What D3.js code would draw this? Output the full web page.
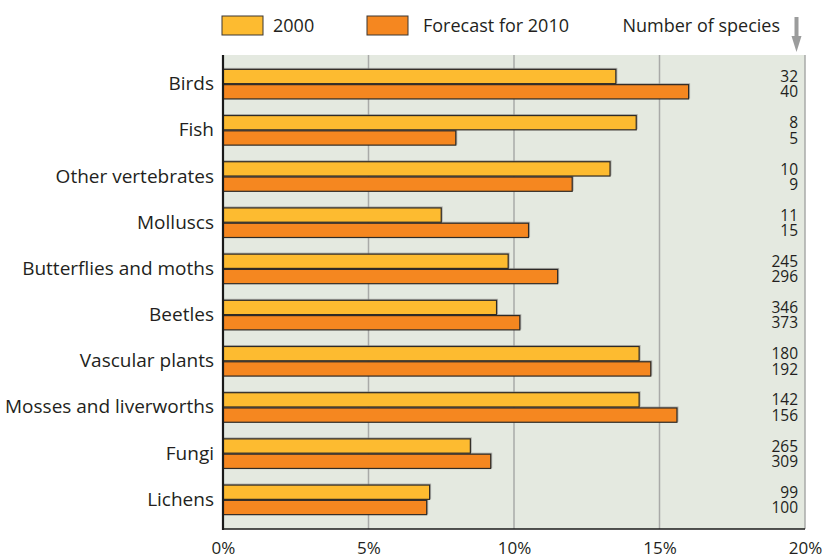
<!DOCTYPE html>
<html>
<head>
<meta charset="utf-8">
<script src="https://cdn.jsdelivr.net/npm/d3@7"></script>
<style>
  html, body { margin: 0; padding: 0; background: #ffffff; }
  svg { display: block; }
  text { font-family: "Open Sans", "DejaVu Sans", sans-serif; fill: #231f20; }
</style>
</head>
<body>
<svg id="chart" width="824" height="560"></svg>
<script>
// Share of threatened species per group, 2000 and the 2010 forecast
const categories = ["Birds", "Fish", "Other vertebrates", "Molluscs", "Butterflies and moths",
  "Beetles", "Vascular plants", "Mosses and liverworths", "Fungi", "Lichens"];
const share2000 = [13.5, 14.2, 13.3, 7.5, 9.8, 9.4, 14.3, 14.3, 8.5, 7.1];
const share2010 = [16.0, 8.0, 12.0, 10.5, 11.5, 10.2, 14.7, 15.6, 9.2, 7.0];
const species2000 = [32, 8, 10, 11, 245, 346, 180, 142, 265, 99];
const species2010 = [40, 5, 9, 15, 296, 373, 192, 156, 309, 100];
const xTicks = [0, 5, 10, 15, 20];
const seriesNames = ["2000", "Forecast for 2010"];

const colors = { y2000: "#fdbb30", y2010: "#f58720" };

const svg = d3.select("#chart");
const plot = { left: 223, right: 805, top: 55, bottom: 529 };

const x = d3.scaleLinear().domain([0, 20]).range([plot.left, plot.right]);
const y = d3.scaleBand().domain(categories).range([plot.top, plot.bottom])
  .paddingInner(0.338).paddingOuter(0.3);
const ySub = d3.scaleBand().domain(["a", "b"]).range([0, y.bandwidth()]);

// plot background
svg.append("rect")
  .attr("x", plot.left).attr("y", plot.top)
  .attr("width", plot.right - plot.left).attr("height", plot.bottom - plot.top)
  .attr("fill", "#e4e9e0");

// vertical gridlines
svg.append("g").selectAll("line").data(xTicks.slice(1, -1)).join("line")
  .attr("x1", d => x(d)).attr("x2", d => x(d))
  .attr("y1", plot.top).attr("y2", plot.bottom)
  .attr("stroke", "#a9aaa8").attr("stroke-width", 1.5);

// right border
svg.append("line")
  .attr("x1", plot.right).attr("x2", plot.right)
  .attr("y1", plot.top).attr("y2", plot.bottom)
  .attr("stroke", "#a9aaa8").attr("stroke-width", 1.5);

// bars
const rows = categories.map((c, i) => ({
  cat: c, v2000: share2000[i], v2010: share2010[i], n2000: species2000[i], n2010: species2010[i]
}));

const barData = [];
rows.forEach(r => {
  barData.push({ cat: r.cat, key: "a", v: r.v2000, fill: colors.y2000 });
  barData.push({ cat: r.cat, key: "b", v: r.v2010, fill: colors.y2010 });
});

const bars = svg.append("g");
// soft shadow behind each bar
bars.selectAll("rect.shadow").data(barData).join("rect")
  .attr("class", "shadow")
  .attr("x", x(0)).attr("y", d => y(d.cat) + ySub(d.key) - 1)
  .attr("width", d => x(d.v) - x(0) + 1.5).attr("height", ySub.bandwidth())
  .attr("fill", "#8a8a88").attr("opacity", 0.6);
bars.selectAll("rect.bar").data(barData).join("rect")
  .attr("class", "bar")
  .attr("x", x(0)).attr("y", d => y(d.cat) + ySub(d.key) + 0.5)
  .attr("width", d => x(d.v) - x(0)).attr("height", ySub.bandwidth() - 1)
  .attr("fill", d => d.fill)
  .attr("stroke", "#2e2a26").attr("stroke-width", 1.2);

// axis lines
svg.append("line")
  .attr("x1", plot.left).attr("x2", plot.left)
  .attr("y1", plot.top).attr("y2", plot.bottom + 1)
  .attr("stroke", "#1a1a1a").attr("stroke-width", 2.2);
svg.append("line")
  .attr("x1", plot.left - 1).attr("x2", plot.right)
  .attr("y1", plot.bottom).attr("y2", plot.bottom)
  .attr("stroke", "#1a1a1a").attr("stroke-width", 1.6);

// x tick labels
const xAxis = d3.axisBottom(x).tickValues(xTicks).tickFormat(d => d + "%").tickSize(0).tickPadding(0);
const gx = svg.append("g").attr("transform", `translate(0,${plot.bottom + 25})`).call(xAxis);
gx.select(".domain").remove();
gx.selectAll("text").attr("font-size", 17).attr("dy", null).attr("y", 0)
  .style("font-family", '"Open Sans", "DejaVu Sans", sans-serif').attr("fill", "#231f20");

// category labels
svg.append("g").selectAll("text").data(categories).join("text")
  .attr("x", plot.left - 9)
  .attr("y", d => y(d) + y.bandwidth() / 2 + 6)
  .attr("text-anchor", "end").attr("font-size", 19)
  .text(d => d);

// species counts
const counts = svg.append("g").attr("font-size", 15.5).attr("text-anchor", "end");
counts.selectAll("text.n1").data(rows).join("text")
  .attr("class", "n1")
  .attr("x", 798).attr("y", d => y(d.cat) + ySub("a") + ySub.bandwidth() - 2)
  .text(d => d.n2000);
counts.selectAll("text.n2").data(rows).join("text")
  .attr("class", "n2")
  .attr("x", 798).attr("y", d => y(d.cat) + ySub("b") + ySub.bandwidth() - 2)
  .text(d => d.n2010);

// legend
const legend = svg.append("g");
const legendItems = [
  { label: seriesNames[0], fill: colors.y2000, sx: 222, tx: 273 },
  { label: seriesNames[1], fill: colors.y2010, sx: 367, tx: 423 }
];
legend.selectAll("rect").data(legendItems).join("rect")
  .attr("x", d => d.sx).attr("y", 16).attr("width", 41).attr("height", 19)
  .attr("fill", d => d.fill).attr("stroke", "#3a3633").attr("stroke-width", 1);
legend.selectAll("text").data(legendItems).join("text")
  .attr("x", d => d.tx).attr("y", 32).attr("font-size", 18)
  .text(d => d.label);
legend.append("text").attr("x", 780).attr("y", 32).attr("font-size", 18)
  .attr("text-anchor", "end").text("Number of species");

// downward arrow above the species column
const arrow = svg.append("g").attr("fill", "#9b9c9c");
arrow.append("rect").attr("x", 794.5).attr("y", 17).attr("width", 4).attr("height", 20);
arrow.append("path").attr("d", "M 791.5 36 L 801.5 36 L 796.5 52 Z");
</script>
</body>
</html>
